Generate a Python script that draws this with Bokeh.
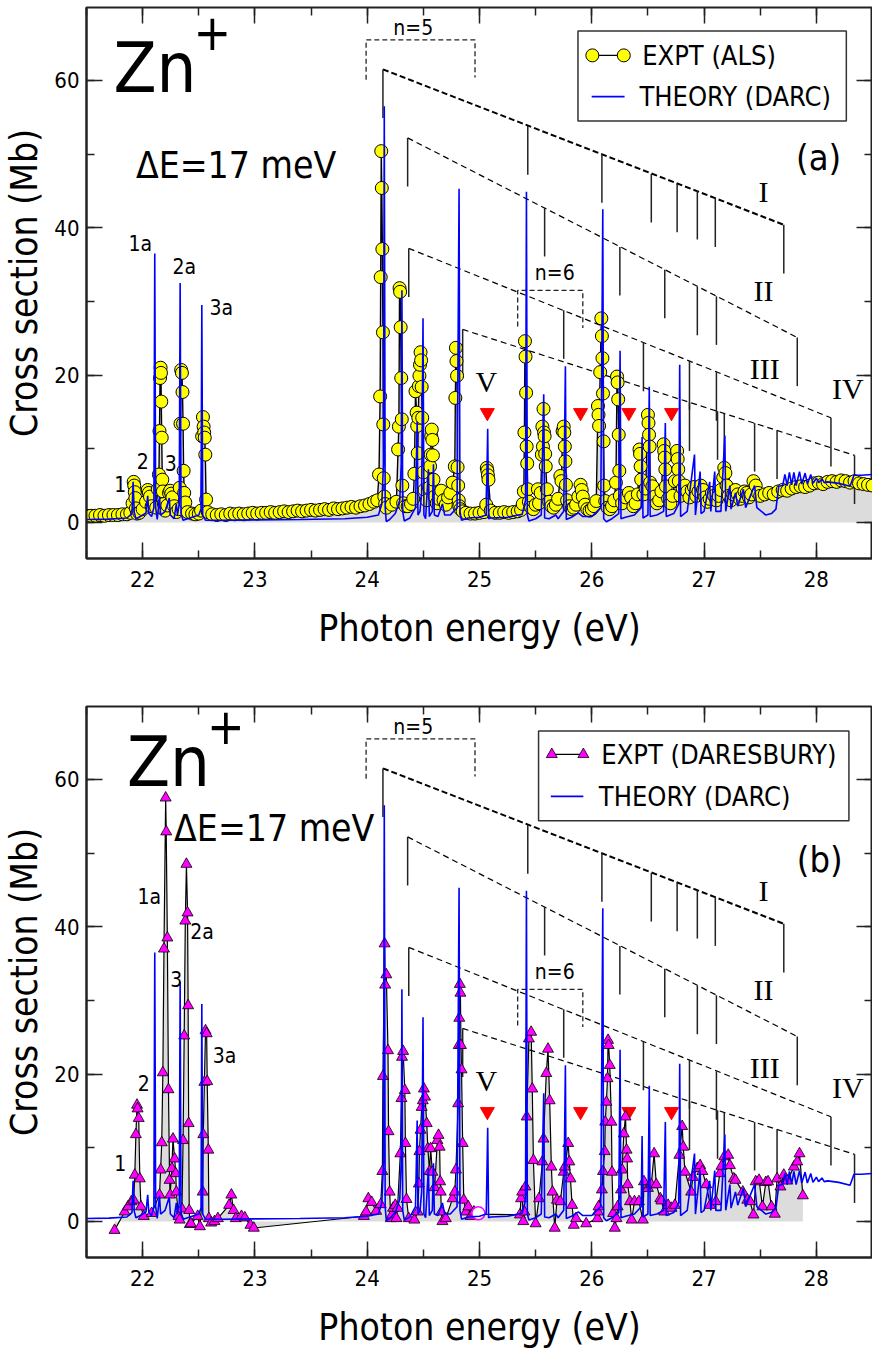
from bokeh.plotting import figure
from bokeh.layouts import column
from bokeh.models import LinearAxis, SingleIntervalTicker, Range1d, Label
from bokeh.embed import file_html
from bokeh.resources import INLINE

SANS = "DejaVu Sans Condensed"
SERIF = "Liberation Serif"

# ---------------- data ----------------
X_RANGE = (21.5, 28.5)
Y_RANGE = (-4.9, 69.9)
x_ticks_interval = 1
y_ticks_interval = 20

# ALS experiment (photon energy eV, cross section Mb)
als_points = [
    (21.50, 0.9), (21.54, 0.9), (21.58, 0.9), (21.62, 1.0), (21.66, 0.9), (21.70, 1.0), (21.74, 1.0),
    (21.78, 1.0), (21.82, 1.1), (21.86, 1.1), (21.89, 1.3),
    (21.91, 2.6), (21.92, 5.5), (21.925, 5.0), (21.93, 4.1), (21.935, 3.3), (21.94, 1.9), (21.95, 1.2),
    (21.97, 1.3), (22.00, 1.8), (22.03, 2.8), (22.045, 4.4), (22.055, 4.0), (22.065, 3.5), (22.08, 2.2),
    (22.12, 2.0), (22.135, 4.5), (22.145, 6.5), (22.15, 12.4), (22.155, 19.6), (22.16, 21.0), (22.163, 20.3),
    (22.166, 16.4), (22.17, 11.5), (22.175, 5.8), (22.18, 4.2), (22.19, 2.5), (22.20, 1.6),
    (22.22, 2.3), (22.235, 4.0), (22.245, 4.3), (22.255, 3.9), (22.265, 3.4), (22.28, 2.2), (22.30, 1.4),
    (22.32, 1.8), (22.33, 4.7), (22.337, 13.4), (22.343, 20.7), (22.35, 20.3), (22.355, 17.7), (22.36, 13.4),
    (22.365, 7.0), (22.37, 4.0), (22.38, 2.7), (22.40, 1.4), (22.44, 1.2), (22.47, 1.1),
    (22.50, 1.2), (22.52, 1.6), (22.53, 11.7), (22.537, 14.3), (22.543, 13.0), (22.548, 12.2), (22.553, 11.5),
    (22.558, 9.2), (22.565, 3.1), (22.58, 1.4),
    (22.62, 1.1), (22.66, 1.0), (22.70, 1.1), (22.74, 1.0), (22.78, 1.2), (22.82, 1.1), (22.86, 1.2),
    (22.90, 1.1), (22.94, 1.2), (22.98, 1.3), (23.02, 1.2), (23.06, 1.3), (23.10, 1.3), (23.14, 1.4),
    (23.18, 1.3), (23.22, 1.4), (23.26, 1.5), (23.30, 1.4), (23.34, 1.5), (23.38, 1.6), (23.42, 1.5),
    (23.46, 1.6), (23.50, 1.7), (23.54, 1.6), (23.58, 1.7), (23.62, 1.8), (23.66, 1.7), (23.70, 1.9),
    (23.74, 1.8), (23.78, 1.9), (23.82, 2.0), (23.86, 2.1), (23.90, 2.0), (23.94, 2.2), (23.98, 2.3),
    (24.02, 2.5), (24.06, 2.8),
    (24.09, 3.0), (24.105, 6.5), (24.115, 17.1), (24.12, 33.3), (24.125, 50.4), (24.13, 45.4), (24.135, 37.1),
    (24.14, 25.8), (24.143, 13.3), (24.147, 6.0), (24.152, 3.5), (24.16, 2.5), (24.17, 2.0),
    (24.22, 2.4), (24.26, 2.8), (24.275, 9.9), (24.282, 13.0), (24.288, 31.8), (24.293, 31.3), (24.298, 26.5),
    (24.303, 19.6), (24.308, 14.0), (24.313, 5.0), (24.32, 2.6), (24.34, 2.2),
    (24.36, 2.2), (24.39, 2.5), (24.41, 3.2), (24.42, 6.6), (24.43, 17.8), (24.44, 14.9), (24.445, 13.1),
    (24.45, 9.4), (24.455, 14.2), (24.46, 18.5), (24.465, 19.9), (24.47, 21.4), (24.475, 23.1), (24.48, 22.0),
    (24.485, 18.4), (24.49, 14.2), (24.50, 6.8), (24.51, 4.4), (24.53, 3.0), (24.55, 4.7), (24.56, 7.6),
    (24.565, 9.2), (24.57, 11.7), (24.575, 12.6), (24.58, 11.2), (24.585, 9.1), (24.59, 5.8), (24.60, 3.5),
    (24.62, 2.6), (24.64, 3.2), (24.66, 4.3), (24.68, 3.0), (24.70, 2.4), (24.72, 3.4), (24.74, 4.0),
    (24.76, 5.4), (24.78, 7.6), (24.785, 16.9), (24.79, 23.7), (24.795, 21.9), (24.80, 19.9), (24.805, 7.5),
    (24.81, 5.0), (24.815, 3.0), (24.82, 2.2), (24.83, 1.8), (24.85, 1.5), (24.88, 1.3),
    (24.92, 1.2), (24.96, 1.2), (25.00, 1.3), (25.04, 1.4), (25.06, 2.4), (25.065, 7.4), (25.07, 7.0),
    (25.075, 6.4), (25.08, 5.8), (25.10, 1.6), (25.14, 1.3), (25.18, 1.3), (25.22, 1.4), (25.26, 1.3),
    (25.30, 1.4), (25.34, 1.5), (25.37, 1.7),
    (25.385, 2.5), (25.395, 4.2), (25.40, 12.2), (25.405, 24.6), (25.41, 22.5), (25.415, 17.6), (25.42, 10.3),
    (25.425, 8.0), (25.43, 4.5), (25.44, 2.8), (25.46, 2.0), (25.48, 1.8), (25.50, 2.4), (25.52, 4.5),
    (25.53, 2.6), (25.545, 4.0), (25.555, 9.2), (25.56, 13.0), (25.565, 10.3), (25.57, 15.4), (25.575, 12.2),
    (25.58, 11.7), (25.585, 9.3), (25.59, 7.6), (25.60, 4.5), (25.62, 2.8), (25.64, 2.2), (25.66, 2.0),
    (25.68, 2.4), (25.70, 3.2), (25.72, 6.3), (25.73, 5.6), (25.74, 12.4), (25.75, 13.0), (25.755, 12.2),
    (25.76, 10.3), (25.765, 8.3), (25.77, 5.1), (25.78, 3.0), (25.80, 2.2), (25.82, 1.8), (25.84, 2.0),
    (25.86, 2.4), (25.88, 3.5), (25.90, 5.1), (25.91, 4.4), (25.92, 3.5), (25.94, 2.4), (25.96, 1.8),
    (25.98, 1.6), (26.00, 1.8), (26.02, 2.2), (26.04, 2.9), (26.055, 15.8), (26.06, 14.6), (26.065, 13.1),
    (26.075, 20.4), (26.085, 27.7), (26.09, 25.3), (26.095, 22.3), (26.10, 17.5), (26.105, 11.0), (26.11, 5.0),
    (26.12, 2.9), (26.14, 2.0), (26.16, 1.8), (26.18, 2.2), (26.20, 3.0), (26.215, 5.4), (26.225, 19.8),
    (26.23, 19.0), (26.235, 16.7), (26.24, 11.9), (26.245, 7.0), (26.25, 3.6), (26.27, 2.6), (26.30, 3.4),
    (26.33, 4.0), (26.35, 3.4), (26.37, 2.2), (26.39, 2.6), (26.41, 3.8), (26.425, 9.9), (26.43, 9.3),
    (26.435, 7.6), (26.44, 5.8), (26.46, 3.8), (26.48, 4.6), (26.50, 14.6), (26.505, 13.5), (26.51, 11.9),
    (26.515, 10.3), (26.52, 5.4), (26.54, 4.9), (26.56, 3.5), (26.58, 2.6), (26.60, 3.0), (26.62, 4.2),
    (26.64, 10.6), (26.645, 9.7), (26.65, 8.8), (26.655, 7.2), (26.66, 4.9), (26.68, 3.2), (26.70, 2.6),
    (26.72, 3.6), (26.74, 5.6), (26.76, 9.7), (26.765, 8.6), (26.77, 7.2), (26.775, 5.6), (26.79, 3.6),
    (26.81, 4.6), (26.83, 5.0), (26.85, 4.2), (26.87, 3.4), (26.89, 4.4), (26.91, 4.8), (26.93, 3.6),
    (26.95, 4.2), (26.97, 5.0), (26.99, 4.4), (27.01, 3.4), (27.03, 2.8), (27.05, 3.2), (27.07, 4.0),
    (27.09, 3.6), (27.11, 3.0), (27.13, 3.6), (27.15, 4.4), (27.17, 6.1), (27.18, 7.4), (27.19, 6.7),
    (27.20, 5.0), (27.22, 3.6), (27.24, 3.0), (27.26, 3.8), (27.28, 4.4), (27.30, 3.8), (27.32, 3.2),
    (27.34, 3.6), (27.36, 4.2), (27.38, 4.0), (27.40, 3.4), (27.42, 3.8), (27.44, 5.6), (27.46, 5.0),
    (27.48, 4.0), (27.50, 3.6), (27.54, 3.8), (27.58, 4.0), (27.62, 3.8), (27.66, 4.2), (27.70, 4.4),
    (27.74, 4.3), (27.78, 4.6), (27.82, 4.8), (27.86, 4.9), (27.90, 4.8), (27.94, 5.0), (27.98, 5.3),
    (28.02, 5.4), (28.06, 5.2), (28.10, 5.5), (28.14, 5.6), (28.18, 5.5), (28.22, 5.7), (28.26, 5.6),
    (28.30, 5.4), (28.34, 5.6), (28.38, 5.3), (28.42, 5.2), (28.46, 5.1), (28.50, 5.0),
]

# Daresbury experiment
dl_points = [
    (21.75, -1.2), (21.84, 1.3), (21.87, 2.0), (21.90, 2.7), (21.92, 2.9), (21.93, 6.3), (21.94, 11.8),
    (21.95, 15.8), (21.955, 15.3), (21.965, 14.0), (21.975, 5.8), (21.985, 2.0), (22.01, 0.7), (22.08, 1.1),
    (22.15, 3.6), (22.16, 7.0), (22.17, 10.7), (22.18, 20.2), (22.19, 37.0), (22.205, 57.5), (22.21, 52.9),
    (22.22, 38.5), (22.23, 17.9), (22.24, 5.6), (22.245, 3.6), (22.26, 7.2), (22.27, 11.2), (22.285, 8.5),
    (22.295, 6.5), (22.30, 4.0), (22.32, 0.7), (22.33, 0.2), (22.35, 1.7), (22.36, 11.0), (22.37, 25.2),
    (22.38, 40.8), (22.39, 48.5), (22.40, 41.9), (22.405, 29.3), (22.41, 13.3), (22.415, 1.5), (22.42, -0.4),
    (22.43, -0.3), (22.49, 0.7), (22.51, -0.7), (22.535, 4.0), (22.54, 11.8), (22.55, 18.9), (22.56, 25.9),
    (22.57, 25.5), (22.575, 19.0), (22.585, 9.7), (22.59, 0.4), (22.61, -0.2), (22.64, 0.0), (22.67, 0.4),
    (22.77, 2.2), (22.79, 3.6), (22.81, 1.5), (22.83, 0.4), (22.88, 0.7), (22.91, 0.5), (22.96, -0.5),
    (22.99, -0.9),
    (23.97, 0.7), (23.99, 1.3), (24.01, 3.1), (24.04, 2.6), (24.08, 1.4), (24.12, 2.3), (24.135, 6.8),
    (24.14, 19.7), (24.155, 37.7), (24.16, 32.1), (24.17, 33.5), (24.185, 23.2), (24.19, 12.2), (24.20, 4.0),
    (24.21, 0.4), (24.22, 0.9), (24.23, 1.8), (24.25, 2.2), (24.26, 0.4), (24.27, 1.8), (24.295, 9.2),
    (24.305, 16.7), (24.31, 22.3), (24.32, 23.1), (24.335, 17.8), (24.34, 10.6), (24.35, 3.0), (24.37, 0.4),
    (24.42, 0.2), (24.45, 1.3), (24.46, 5.1), (24.465, 9.5), (24.475, 12.4), (24.485, 15.5), (24.495, 16.4),
    (24.505, 18.0), (24.515, 16.9), (24.53, 13.3), (24.54, 9.9), (24.555, 6.8), (24.565, 9.9), (24.58, 6.7),
    (24.60, 4.6), (24.625, 11.0), (24.635, 11.7), (24.645, 10.1), (24.65, 5.4), (24.655, 4.0), (24.66, 1.3),
    (24.67, 0.0), (24.70, 0.4), (24.76, 3.1), (24.78, 4.0), (24.79, 7.0), (24.81, 16.0), (24.815, 23.9),
    (24.82, 27.6), (24.825, 32.2), (24.83, 31.0), (24.835, 23.9), (24.84, 20.6), (24.85, 10.6), (24.86, 2.9),
    (24.88, 1.3), (24.90, 2.0), (24.92, 0.7), (24.95, 1.3), (24.99, 1.0),
    (25.36, 0.9), (25.37, 3.1), (25.38, 4.0), (25.39, 0.0), (25.40, 1.3), (25.41, 4.7), (25.42, 14.2),
    (25.44, 24.8), (25.46, 25.7), (25.47, 18.0), (25.48, 8.3), (25.50, -0.3), (25.53, 3.1), (25.56, 8.1),
    (25.57, 11.2), (25.595, 20.1), (25.61, 23.4), (25.625, 16.4), (25.64, 7.4), (25.65, 4.0), (25.67, -0.9),
    (25.69, 2.9), (25.72, 2.7), (25.75, 6.7), (25.76, 7.4), (25.79, 10.6), (25.80, 8.1), (25.81, 5.8),
    (25.825, 2.2), (25.84, -0.5), (25.86, 0.4), (25.95, -0.3), (26.05, 0.4), (26.055, 1.3), (26.06, 2.0),
    (26.09, 4.3), (26.10, 6.8), (26.115, 9.5), (26.12, 13.5), (26.13, 16.2), (26.14, 19.4), (26.145, 24.6),
    (26.15, 23.9), (26.16, 21.2), (26.175, 13.5), (26.18, 6.7), (26.19, 1.1), (26.205, -0.9), (26.22, 0.4),
    (26.23, 2.0), (26.26, 4.3), (26.27, 7.0), (26.285, 11.9), (26.30, 14.2), (26.31, 9.7), (26.315, 8.5),
    (26.32, 5.0), (26.34, 2.7), (26.355, 0.2), (26.38, 2.7), (26.42, 2.7), (26.455, 0.2), (26.465, 5.4),
    (26.50, 4.5), (26.53, 5.0), (26.555, 9.2), (26.575, 5.0), (26.61, 3.1), (26.62, 2.8), (26.645, 1.3),
    (26.68, 2.2), (26.71, 1.8), (26.74, 2.2), (26.78, 9.0), (26.805, 12.9), (26.815, 10.1), (26.83, 6.7),
    (26.885, 4.0), (26.90, 6.0), (26.94, 7.2), (26.965, 7.6), (26.985, 6.8), (27.02, 5.0), (27.055, 2.2),
    (27.105, 2.7), (27.14, 6.5), (27.155, 7.5), (27.18, 8.8), (27.215, 9.0), (27.23, 7.6), (27.265, 5.8),
    (27.28, 5.6), (27.345, 4.0), (27.385, 2.9), (27.41, 2.7), (27.44, 0.9), (27.46, 5.4), (27.49, 5.6),
    (27.52, 2.0), (27.55, 5.3), (27.57, 5.4), (27.60, 2.0), (27.63, 1.0), (27.65, 5.8), (27.68, 4.7),
    (27.71, 6.3), (27.74, 5.5), (27.80, 7.4), (27.83, 8.1), (27.85, 9.2), (27.88, 3.5),
]
dl_open_point = [(24.99, 1.1)]

# DARC theory
theory_points = [
    (21.50, 0.40), (21.70, 0.45), (21.86, 0.60), (21.905, 1.20), (21.915, 5.50), (21.925, 1.40), (21.94, 0.50),
    (21.98, 0.80), (22.03, 1.30), (22.045, 3.60), (22.055, 1.20), (22.08, 0.80), (22.10, 2.00), (22.108, 36.5),
    (22.116, 2.00), (22.13, 0.40), (22.15, 3.5), (22.16, 1.0), (22.20, 1.50), (22.237, 3.30), (22.247, 1.00),
    (22.28, 0.50), (22.30, 2.5), (22.31, 1.00), (22.326, 2.50), (22.334, 32.5), (22.342, 1.20), (22.36, 0.30),
    (22.42, 0.60), (22.50, 1.00), (22.52, 1.80), (22.527, 29.5), (22.535, 1.00), (22.56, 0.30), (22.70, 0.30),
    (23.00, 0.35), (23.40, 0.40), (23.80, 0.50), (24.00, 0.70), (24.10, 1.00), (24.13, 2.50), (24.145, 8.0),
    (24.152, 56.5), (24.16, 2.00), (24.17, 0.10), (24.20, 0.40), (24.25, 1.20), (24.29, 3.00), (24.303, 8.0),
    (24.309, 31.5), (24.316, 1.50), (24.33, 0.20), (24.38, 0.60), (24.43, 2.00), (24.445, 13.7), (24.452, 1.00),
    (24.47, 1.50), (24.485, 4.00), (24.497, 27.7), (24.505, 1.00), (24.52, 0.50), (24.545, 7.2), (24.553, 0.8),
    (24.58, 1.5), (24.59, 7.9), (24.598, 1.0), (24.63, 0.8), (24.67, 2.5), (24.69, 1.0), (24.74, 1.0),
    (24.80, 2.0), (24.818, 45.3), (24.826, 1.5), (24.84, 0.3), (24.90, 0.6), (25.00, 0.7), (25.06, 1.0),
    (25.073, 12.7), (25.081, 0.5), (25.10, 0.6), (25.25, 0.7), (25.38, 1.1), (25.41, 3.0), (25.418, 44.9),
    (25.426, 1.0), (25.44, 0.2), (25.50, 0.5), (25.55, 1.0), (25.572, 17.4), (25.58, 0.6), (25.62, 0.5),
    (25.68, 1.0), (25.70, 0.5), (25.75, 1.5), (25.765, 21.2), (25.773, 0.4), (25.82, 0.7), (25.88, 1.3),
    (25.92, 0.8), (26.00, 0.8), (26.08, 2.0), (26.098, 42.5), (26.106, 0.5), (26.13, 0.1), (26.18, 0.5),
    (26.24, 1.2), (26.252, 23.3), (26.26, 0.5), (26.30, 0.7), (26.38, 1.0), (26.44, 2.0), (26.448, 11.6),
    (26.456, 0.6), (26.50, 1.0), (26.512, 18.4), (26.52, 0.8), (26.58, 1.0), (26.64, 1.5), (26.655, 13.5),
    (26.663, 0.8), (26.73, 1.2), (26.775, 2.5), (26.783, 21.4), (26.791, 0.8), (26.85, 1.5), (26.915, 9.2),
    (26.923, 1.0), (26.965, 6.9), (26.973, 1.2), (27.00, 1.5), (27.05, 5.5), (27.06, 1.5), (27.095, 6.9),
    (27.105, 1.5), (27.15, 1.5), (27.185, 11.8), (27.193, 1.5), (27.23, 5.0), (27.24, 1.8), (27.28, 4.0),
    (27.30, 2.2), (27.35, 4.5), (27.37, 2.0), (27.41, 3.5), (27.45, 5.0), (27.47, 2.0), (27.55, 1.0),
    (27.60, 1.2), (27.64, 1.8), (27.665, 4.9), (27.70, 5.0), (27.72, 6.5), (27.74, 5.0), (27.76, 6.8),
    (27.78, 5.1), (27.80, 6.8), (27.82, 5.0), (27.85, 6.9), (27.87, 5.2), (27.90, 6.7), (27.92, 5.2),
    (27.95, 6.5), (27.97, 5.3), (28.00, 6.0), (28.02, 5.4), (28.05, 5.9), (28.07, 5.4), (28.10, 5.5),
    (28.20, 5.3), (28.30, 4.9), (28.335, 6.4), (28.40, 6.4), (28.50, 6.5),
]

# Rydberg series annotations: dashed line start/end and hanging tick marks
series_I_x = [24.14, 25.43, 26.09, 26.53, 26.76, 26.94, 27.10, 27.71]
series_I_y = [61.5, 53.8, 50.0, 47.3, 46.0, 45.0, 44.0, 40.4]
series_II_x = [24.36, 25.58, 26.25, 26.65, 26.94, 27.11, 27.83]
series_II_y = [52.2, 42.7, 37.4, 34.3, 32.0, 30.7, 25.1]
series_III_x = [24.37, 25.75, 26.46, 26.87, 27.11, 28.13]
series_III_y = [37.2, 28.8, 24.4, 21.9, 20.4, 14.2]
series_IV_x = [24.85, 26.87, 27.12, 27.18, 27.45, 27.65, 28.34]
series_IV_y = [26.2, 16.3, 15.1, 14.8, 13.5, 12.5, 9.1]
series_names = ["I", "II", "III", "IV", "V"]
series_label_x = [27.53, 27.53, 27.54, 28.28, 25.06]
series_label_y = [44.9, 31.5, 20.9, 18.2, 19.1]
tick_length = 6.6

n5_bracket_x = [23.99, 23.99, 24.96, 24.96]
n5_bracket_y = [60.1, 65.5, 65.5, 60.4]
n6_bracket_x = [25.34, 25.34, 25.92, 25.92]
n6_bracket_y = [26.6, 31.5, 31.5, 26.4]

red_marker_x = [25.07, 25.90, 26.33, 26.71]
red_marker_y = [14.9, 14.9, 14.9, 14.9]

peak_labels = ["1", "2", "3", "1a", "2a", "3a"]
peak_label_x_a = [21.80, 22.00, 22.25, 21.98, 22.37, 22.70]
peak_label_y_a = [5.2, 8.3, 8.0, 37.8, 34.7, 29.1]
peak_label_x_b = [21.80, 22.01, 22.30, 22.06, 22.53, 22.73]
peak_label_y_b = [7.9, 18.8, 32.9, 44.1, 39.3, 22.5]

als_x = [p[0] for p in als_points]
als_y = [p[1] for p in als_points]
dl_x = [p[0] for p in dl_points]
dl_y = [p[1] for p in dl_points]
th_x = [p[0] for p in theory_points]
th_y = [p[1] for p in theory_points]

GRAY = "#dcdcdc"
BLUE = "#0000ff"
AX = "#222222"


def make_fig(min_top, min_bottom):
    p = figure(frame_width=786, frame_height=551,
               x_range=Range1d(*X_RANGE), y_range=Range1d(*Y_RANGE),
               output_backend="svg", toolbar_location=None,
               min_border_left=81, min_border_right=0,
               min_border_top=min_top, min_border_bottom=min_bottom,
               background_fill_color="white", border_fill_color="white")
    p.grid.visible = False
    p.outline_line_color = AX
    p.outline_line_width = 2
    bx = p.below[0]
    ly = p.left[0]
    bx.ticker = SingleIntervalTicker(interval=x_ticks_interval, num_minor_ticks=2)
    ly.ticker = SingleIntervalTicker(interval=y_ticks_interval, num_minor_ticks=2)
    top = LinearAxis(ticker=SingleIntervalTicker(interval=x_ticks_interval, num_minor_ticks=2))
    right = LinearAxis(ticker=SingleIntervalTicker(interval=y_ticks_interval, num_minor_ticks=2))
    p.add_layout(top, "above")
    p.add_layout(right, "right")
    for ax in (bx, ly, top, right):
        ax.major_tick_in = 16
        ax.major_tick_out = 0
        ax.minor_tick_in = 8
        ax.minor_tick_out = 0
        ax.major_tick_line_width = 1.5
        ax.minor_tick_line_width = 1.5
        ax.major_tick_line_color = AX
        ax.minor_tick_line_color = AX
        ax.axis_line_width = 2
        ax.axis_line_color = AX
        ax.major_label_text_font = SANS
        ax.major_label_text_font_size = "22px"
        ax.major_label_text_color = "black"
    for ax in (top, right):
        ax.major_label_text_font_size = "1px"
        ax.major_label_text_color = None
        ax.major_label_standoff = 0
        ax.axis_line_color = None
    bx.major_label_standoff = 12
    ly.major_label_standoff = 7
    bx.axis_label = "Photon energy (eV)"
    ly.axis_label = "Cross section (Mb)"
    for ax in (bx, ly):
        ax.axis_label_text_font = SANS
        ax.axis_label_text_font_size = "37px"
        ax.axis_label_text_font_style = "normal"
        ax.axis_label_text_color = "black"
    bx.axis_label_standoff = 17
    ly.axis_label_standoff = 5
    return p


def label(p, x, y, text, size, font=SANS, align="center", baseline="middle", color="black"):
    p.add_layout(Label(x=x, y=y, text=text, text_font=font, text_font_size=size,
                       text_align=align, text_baseline=baseline, text_color=color))


def annotate(p):
    dash_kw = dict(line_color="#222222", line_dash="5 3", line_width=1.3)
    p.line(n5_bracket_x, n5_bracket_y, **dash_kw)
    p.line(n6_bracket_x, n6_bracket_y, **dash_kw)
    label(p, 24.41, 67.1, "n=5", "21px")
    label(p, 25.67, 33.9, "n=6", "21px")
    groups = [(series_I_x, series_I_y, 2.0, "6 3"),
              (series_II_x, series_II_y, 1.2, "6 4"),
              (series_III_x, series_III_y, 1.2, "6 4"),
              (series_IV_x, series_IV_y, 1.2, "6 4")]
    for xs, ys, lw, dash in groups:
        p.line([xs[0], xs[-1]], [ys[0], ys[-1]], line_color="black", line_width=lw, line_dash=dash)
        p.segment(x0=xs, y0=ys, x1=xs, y1=[v - tick_length for v in ys],
                  line_color="#222222", line_width=1.5)
    for name, lx, ly_ in zip(series_names, series_label_x, series_label_y):
        label(p, lx, ly_, name, "30px", font=SERIF)
    p.scatter(red_marker_x, red_marker_y, marker="inverted_triangle", size=14,
              fill_color="#ff0000", line_color="#ff0000")


def legend_box(p, left, right, bottom, top):
    p.quad(left=[left], right=[right], bottom=[bottom], top=[top],
           fill_color="white", line_color="#333333", line_width=1.5)


# ---------------- panel (a) ----------------
pa = make_fig(7, 132)
pa.varea(x=als_x, y1=[0] * len(als_x), y2=als_y, fill_color=GRAY)
annotate(pa)
pa.line(als_x, als_y, line_color="black", line_width=1.4)
pa.scatter(als_x, als_y, marker="circle", size=13, fill_color="#ffff00",
           line_color="black", line_width=1)
pa.line(th_x, th_y, line_color=BLUE, line_width=1.6)

label(pa, 21.74, 61.7, "Zn", "70px", align="left")
label(pa, 22.62, 66.6, "+", "50px")
label(pa, 21.94, 48.4, "ΔE=17 meV", "37px", align="left")
label(pa, 28.02, 49.5, "(a)", "36px")
for t, lx, ly_ in zip(peak_labels, peak_label_x_a, peak_label_y_a):
    label(pa, lx, ly_, t, "21px")

legend_box(pa, 25.877, 28.267, 54.5, 66.7)
pa.line([26.005, 26.285], [63.4, 63.4], line_color="black", line_width=1.4)
pa.scatter([26.005, 26.285], [63.4, 63.4], marker="circle", size=13,
           fill_color="#ffff00", line_color="black", line_width=1)
pa.line([25.999, 26.292], [57.8, 57.8], line_color=BLUE, line_width=1.6)
label(pa, 26.449, 63.4, "EXPT (ALS)", "27px", align="left")
label(pa, 26.425, 57.8, "THEORY (DARC)", "27px", align="left")

# ---------------- panel (b) ----------------
pb = make_fig(16, 0)
pb.varea(x=dl_x, y1=[0] * len(dl_x), y2=dl_y, fill_color=GRAY)
annotate(pb)
pb.line(dl_x, dl_y, line_color="black", line_width=1.2)
pb.scatter(dl_x, dl_y, marker="triangle", size=11, fill_color="#ff00ff",
           line_color="black", line_width=0.8)
pb.scatter([q[0] for q in dl_open_point], [q[1] for q in dl_open_point], marker="circle",
           size=13, fill_color="white", line_color="#ff00ff", line_width=1.5)
pb.line(th_x, th_y, line_color=BLUE, line_width=1.6)

label(pb, 21.86, 62.4, "Zn", "70px", align="left")
label(pb, 22.74, 67.3, "+", "50px")
label(pb, 22.28, 53.3, "ΔE=17 meV", "37px", align="left")
label(pb, 28.03, 49.1, "(b)", "36px")
for t, lx, ly_ in zip(peak_labels, peak_label_x_b, peak_label_y_b):
    label(pb, lx, ly_, t, "21px")

legend_box(pb, 25.526, 28.29, 54.38, 66.57)
pb.line([25.644, 25.925], [63.4, 63.4], line_color="black", line_width=1.2)
pb.scatter([25.644, 25.925], [63.4, 63.4], marker="triangle", size=11,
           fill_color="#ff00ff", line_color="black", line_width=0.8)
pb.line([25.635, 25.925], [57.7, 57.7], line_color=BLUE, line_width=1.6)
label(pb, 26.085, 63.4, "EXPT (DARESBURY)", "27px", align="left")
label(pb, 26.063, 57.7, "THEORY (DARC)", "27px", align="left")

layout = column(pa, pb)
open("out.html", "w").write(file_html(layout, INLINE))
